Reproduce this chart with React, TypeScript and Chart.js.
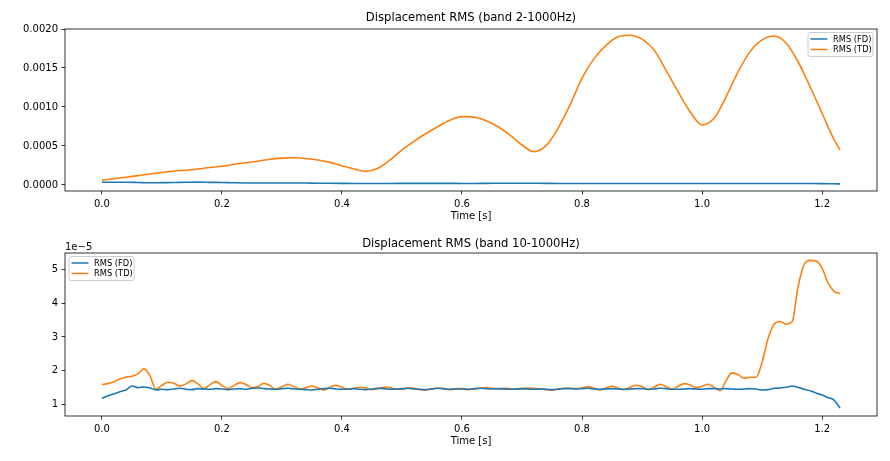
import { useEffect, useRef } from "react";
import { Chart, registerables } from "chart.js";

Chart.register(...registerables);

const seriesLabels = ["RMS (FD)", "RMS (TD)"];
const seriesColors = ["#1f77b4", "#ff7f0e"];
const xTicks = [0, 0.2, 0.4, 0.6, 0.8, 1.0, 1.2];

// band 2-1000 Hz, values in units of 1e-4
const timeBand2 = [
  0, 0.02, 0.04, 0.06, 0.08, 0.1, 0.12, 0.14, 0.16, 0.18,
  0.2, 0.22, 0.24, 0.26, 0.28, 0.3, 0.32, 0.34, 0.36, 0.38,
  0.4, 0.42, 0.44, 0.46, 0.48, 0.5, 0.52, 0.54, 0.56, 0.58,
  0.6, 0.62, 0.64, 0.66, 0.68, 0.7, 0.72, 0.74, 0.76, 0.78,
  0.8, 0.82, 0.84, 0.86, 0.88, 0.9, 0.92, 0.94, 0.96, 0.98,
  1.0, 1.02, 1.04, 1.06, 1.08, 1.1, 1.12, 1.14, 1.16, 1.18,
  1.2, 1.22, 1.23,
];
const fdBand2 = [
  0.35, 0.35, 0.35, 0.32, 0.28, 0.3, 0.32, 0.35, 0.37, 0.34,
  0.32, 0.28, 0.26, 0.25, 0.25, 0.26, 0.26, 0.25, 0.23, 0.22,
  0.21, 0.2, 0.2, 0.2, 0.2, 0.21, 0.21, 0.21, 0.21, 0.21,
  0.2, 0.2, 0.21, 0.22, 0.23, 0.23, 0.22, 0.21, 0.2, 0.2,
  0.2, 0.2, 0.2, 0.2, 0.2, 0.2, 0.2, 0.2, 0.2, 0.2,
  0.2, 0.2, 0.2, 0.2, 0.2, 0.19, 0.19, 0.19, 0.19, 0.19,
  0.18, 0.15, 0.14,
];
const tdBand2 = [
  0.6, 0.8, 1.0, 1.2, 1.4, 1.6, 1.8, 1.9, 2.05, 2.25,
  2.4, 2.65, 2.85, 3.05, 3.3, 3.45, 3.5, 3.4, 3.2, 2.9,
  2.47, 2.05, 1.75, 2.14, 3.2, 4.5, 5.6, 6.6, 7.5, 8.3,
  8.76, 8.7, 8.25, 7.47, 6.4, 5.13, 4.27, 5.04, 7.27, 10.26,
  13.7, 16.2, 17.9, 19.0, 19.2, 18.7, 17.3, 14.7, 11.96, 9.4,
  7.7, 8.55, 11.3, 14.5, 17.1, 18.6, 19.1, 18.2, 15.8, 12.6,
  9.2, 5.8, 4.5,
];
const yTicksBand2 = [0, 0.0005, 0.001, 0.0015, 0.002];

// band 10-1000 Hz, values in units of 1e-5
const timeBand10 = [
  0, 0.01, 0.02, 0.03, 0.04, 0.05, 0.06, 0.07, 0.08, 0.09,
  0.1, 0.11, 0.12, 0.13, 0.14, 0.15, 0.16, 0.17, 0.18, 0.19,
  0.2, 0.21, 0.22, 0.23, 0.24, 0.25, 0.26, 0.27, 0.28, 0.29,
  0.3, 0.31, 0.32, 0.33, 0.34, 0.35, 0.36, 0.37, 0.38, 0.39,
  0.4, 0.41, 0.42, 0.43, 0.44, 0.45, 0.46, 0.47, 0.48, 0.49,
  0.5, 0.51, 0.52, 0.53, 0.54, 0.55, 0.56, 0.57, 0.58, 0.59,
  0.6, 0.61, 0.62, 0.63, 0.64, 0.65, 0.66, 0.67, 0.68, 0.69,
  0.7, 0.71, 0.72, 0.73, 0.74, 0.75, 0.76, 0.77, 0.78, 0.79,
  0.8, 0.81, 0.82, 0.83, 0.84, 0.85, 0.86, 0.87, 0.88, 0.89,
  0.9, 0.91, 0.92, 0.93, 0.94, 0.95, 0.96, 0.97, 0.98, 0.99,
  1.0, 1.01, 1.02, 1.03, 1.04, 1.05, 1.06, 1.07, 1.08, 1.09,
  1.1, 1.11, 1.12, 1.13, 1.14, 1.15, 1.16, 1.17, 1.18, 1.19,
  1.2, 1.21, 1.22, 1.23,
];
const fdBand10 = [
  1.17, 1.25, 1.3, 1.37, 1.42, 1.54, 1.49, 1.51, 1.48, 1.42,
  1.44, 1.43, 1.45, 1.47, 1.44, 1.43, 1.46, 1.45, 1.44, 1.46,
  1.45, 1.43, 1.45, 1.46, 1.44, 1.47, 1.48, 1.46, 1.45, 1.44,
  1.46, 1.47, 1.45, 1.44, 1.43, 1.42, 1.44, 1.46, 1.47, 1.45,
  1.44, 1.45, 1.46, 1.44, 1.43, 1.45, 1.47, 1.46, 1.44, 1.45,
  1.46, 1.47, 1.45, 1.44, 1.43, 1.45, 1.47, 1.46, 1.44, 1.45,
  1.45, 1.44, 1.46, 1.47, 1.46, 1.45, 1.46, 1.45, 1.44, 1.45,
  1.46, 1.45, 1.44, 1.45, 1.44, 1.43, 1.44, 1.46, 1.46, 1.45,
  1.46, 1.47, 1.45, 1.44, 1.45, 1.46, 1.45, 1.44, 1.45, 1.46,
  1.46, 1.44, 1.45, 1.47, 1.46, 1.44, 1.44, 1.45, 1.46, 1.45,
  1.44, 1.46, 1.46, 1.45, 1.46, 1.45, 1.44, 1.45, 1.46, 1.45,
  1.42, 1.43, 1.47, 1.48, 1.5, 1.54, 1.5, 1.44, 1.4, 1.33,
  1.27, 1.19, 1.12, 0.88,
];
const tdBand10 = [
  1.58, 1.61, 1.66, 1.75, 1.8, 1.83, 1.9, 2.05, 1.85, 1.44,
  1.56, 1.65, 1.62, 1.54, 1.6, 1.7, 1.6, 1.46, 1.58, 1.67,
  1.55, 1.46, 1.55, 1.64, 1.58, 1.49, 1.52, 1.62, 1.55, 1.44,
  1.52, 1.59, 1.52, 1.44, 1.49, 1.54, 1.48, 1.42, 1.5, 1.56,
  1.5, 1.44, 1.47, 1.5, 1.48, 1.43, 1.46, 1.5, 1.49, 1.44,
  1.44, 1.48, 1.47, 1.43, 1.42, 1.46, 1.48, 1.45, 1.43, 1.46,
  1.46, 1.43, 1.44, 1.47, 1.49, 1.47, 1.45, 1.47, 1.46, 1.44,
  1.46, 1.48, 1.47, 1.45, 1.43, 1.41, 1.45, 1.47, 1.47, 1.46,
  1.48, 1.52, 1.47, 1.42, 1.48, 1.53, 1.48, 1.43, 1.5, 1.56,
  1.52, 1.43, 1.5, 1.59, 1.52, 1.44, 1.53, 1.61, 1.57, 1.49,
  1.53, 1.59, 1.5, 1.4, 1.7, 1.93, 1.88, 1.77, 1.8, 1.8,
  2.25, 2.95, 3.38, 3.46, 3.38, 3.45, 4.5, 5.15, 5.28, 5.26,
  5.05, 4.6, 4.36, 4.29,
];
const yTicksBand10 = [1, 2, 3, 4, 5];

const FONT = "'DejaVu Sans', sans-serif";

const extras = {
  id: "extras",
  afterDraw(chart: any, _args: any, opts: any) {
    const { ctx, chartArea: a } = chart;
    ctx.save();
    ctx.strokeStyle = "#000";
    ctx.lineWidth = 0.8;
    ctx.strokeRect(a.left, a.top, a.right - a.left, a.bottom - a.top);

    ctx.fillStyle = "#000";
    ctx.textBaseline = "middle";
    ctx.textAlign = "center";
    ctx.font = `11.6px ${FONT}`;
    ctx.fillText(opts.title, (a.left + a.right) / 2, opts.titleY);

    if (opts.offsetText) {
      ctx.textAlign = "left";
      ctx.font = `10px ${FONT}`;
      ctx.fillText(opts.offsetText, a.left, opts.offsetY);
    }

    // legend box inside the axes
    const w = 65;
    const h = 24;
    const x = opts.legendSide === "right" ? a.right - 4 - w : a.left + 4;
    const y = a.top + 3.5;
    ctx.beginPath();
    ctx.roundRect(x, y, w, h, 2);
    ctx.fillStyle = "rgba(255,255,255,0.8)";
    ctx.fill();
    ctx.strokeStyle = "#cccccc";
    ctx.lineWidth = 1;
    ctx.stroke();
    ctx.font = `8.3px ${FONT}`;
    ctx.textAlign = "left";
    chart.data.datasets.forEach((ds: any, i: number) => {
      const ry = y + 6.5 + i * 10.5;
      ctx.strokeStyle = ds.borderColor;
      ctx.lineWidth = 1.5;
      ctx.beginPath();
      ctx.moveTo(x + 2.5, ry);
      ctx.lineTo(x + 19.5, ry);
      ctx.stroke();
      ctx.fillStyle = "#000";
      ctx.fillText(ds.label, x + 25, ry + 0.5);
    });
    ctx.restore();
  },
};

type PanelProps = {
  height: number;
  padTop: number;
  xAxisHeight: number;
  xTitlePad: number;
  title: string;
  titleY: number;
  time: number[];
  fd: number[];
  td: number[];
  unit: number;
  yMin: number;
  yMax: number;
  yTicks: number[];
  yFormat: (v: number) => string;
  legendSide: "left" | "right";
  offsetText?: string;
  offsetY?: number;
};

function Panel(p: PanelProps) {
  const canvasRef = useRef<HTMLCanvasElement>(null);

  useEffect(() => {
    if (!canvasRef.current) return;
    const toPoints = (vals: number[]) =>
      vals.map((v, i) => ({ x: p.time[i], y: v * p.unit }));
    const tickGrid = {
      display: true,
      drawOnChartArea: false,
      drawTicks: true,
      tickLength: 3.5,
      tickColor: "#000",
      tickWidth: 0.8,
    };

    const chart = new Chart(canvasRef.current, {
      type: "line",
      data: {
        datasets: [p.fd, p.td].map((vals, i) => ({
          label: seriesLabels[i],
          data: toPoints(vals),
          borderColor: seriesColors[i],
          backgroundColor: seriesColors[i],
          borderWidth: 1.6,
          pointRadius: 0,
          cubicInterpolationMode: "monotone" as const,
          fill: false,
        })),
      },
      options: {
        animation: false,
        responsive: false,
        devicePixelRatio: 1,
        layout: { padding: { top: p.padTop, right: 13, left: 0, bottom: 0 } },
        plugins: {
          legend: { display: false },
          tooltip: { enabled: false },
          extras: {
            title: p.title,
            titleY: p.titleY,
            legendSide: p.legendSide,
            offsetText: p.offsetText,
            offsetY: p.offsetY,
          },
        } as any,
        scales: {
          x: {
            type: "linear",
            min: -0.0615,
            max: 1.2915,
            grid: tickGrid,
            border: { display: false },
            afterBuildTicks: (s: any) => {
              s.ticks = xTicks.map((v) => ({ value: v }));
            },
            afterFit: (s: any) => {
              s.height = p.xAxisHeight;
            },
            ticks: {
              color: "#000",
              padding: 3.5,
              maxRotation: 0,
              font: { family: FONT, size: 10 },
              callback: (v: any) => Number(v).toFixed(1),
            },
            title: {
              display: true,
              text: "Time [s]",
              color: "#000",
              font: { family: FONT, size: 10 },
              padding: { top: 0, bottom: p.xTitlePad },
            },
          },
          y: {
            type: "linear",
            min: p.yMin,
            max: p.yMax,
            grid: tickGrid,
            border: { display: false },
            afterBuildTicks: (s: any) => {
              s.ticks = p.yTicks.map((v) => ({ value: v }));
            },
            afterFit: (s: any) => {
              s.width = 65;
            },
            ticks: {
              color: "#000",
              padding: 3.5,
              font: { family: FONT, size: 10 },
              callback: (v: any) => p.yFormat(Number(v)),
            },
          },
        },
      },
      plugins: [extras],
    });

    return () => chart.destroy();
  }, []);

  return (
    <canvas
      ref={canvasRef}
      width={890}
      height={p.height}
      style={{ display: "block", width: 890, height: p.height }}
    />
  );
}

export default function App() {
  return (
    <div
      style={{
        position: "fixed",
        left: 0,
        top: 0,
        width: 890,
        height: 461,
        background: "#fff",
      }}
    >
      <Panel
        height={230}
        padTop={29}
        xAxisHeight={39}
        xTitlePad={7.5}
        title="Displacement RMS (band 2-1000Hz)"
        titleY={18}
        time={timeBand2}
        fd={fdBand2}
        td={tdBand2}
        unit={1e-4}
        yMin={-0.000077}
        yMax={0.002}
        yTicks={yTicksBand2}
        yFormat={(v) => v.toFixed(4)}
        legendSide="right"
      />
      <Panel
        height={231}
        padTop={23}
        xAxisHeight={45}
        xTitlePad={14}
        title="Displacement RMS (band 10-1000Hz)"
        titleY={13.5}
        time={timeBand10}
        fd={fdBand10}
        td={tdBand10}
        unit={1}
        yMin={0.645}
        yMax={5.5}
        yTicks={yTicksBand10}
        yFormat={(v) => String(Math.round(v))}
        legendSide="left"
        offsetText="1e−5"
        offsetY={17}
      />
    </div>
  );
}
